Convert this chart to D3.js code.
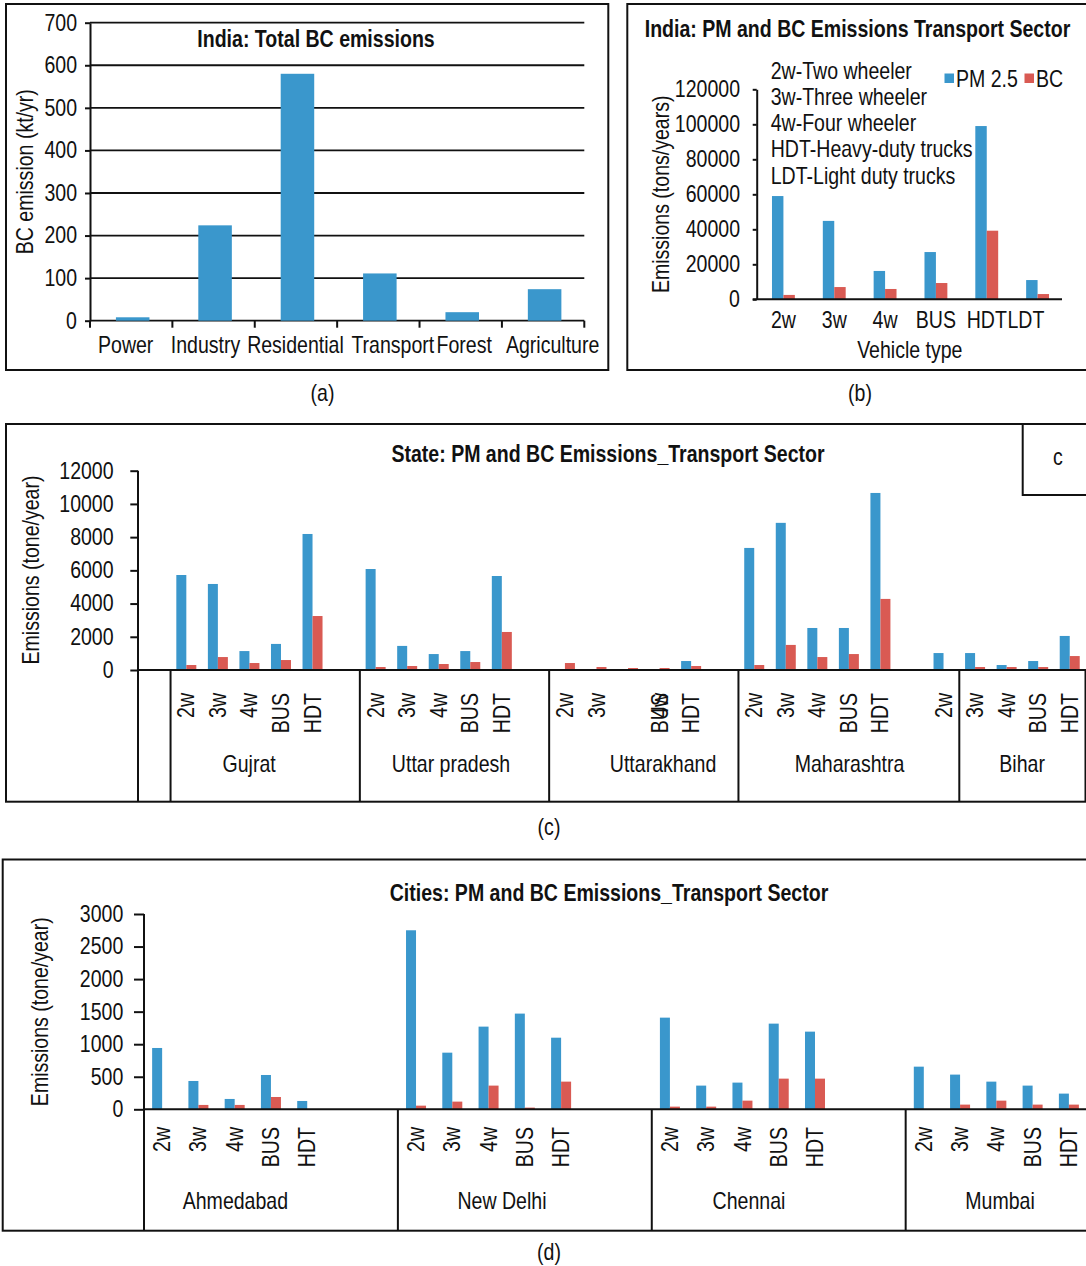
<!DOCTYPE html>
<html>
<head>
<meta charset="utf-8">
<script src="https://cdn.jsdelivr.net/npm/d3@7"></script>
<style>
  html, body { margin: 0; padding: 0; background: #fff; }
  svg text { font-family: "Liberation Sans", Arial, sans-serif; fill: #111; }
</style>
</head>
<body>
<svg id="fig" width="1086" height="1266"></svg>
<script>
// ---------------- data ----------------
// (a) India total BC by sector (kt/yr)
const sectors = ["Power", "Industry", "Residential", "Transport", "Forest", "Agriculture"];
const sectorBC = [8, 224, 580, 111, 20, 74];
const ticksA = [0, 100, 200, 300, 400, 500, 600, 700];

// (b) India transport sector by vehicle type (tons/year)
const vehicleTypes = ["2w", "3w", "4w", "BUS", "HDT", "LDT"];
const indiaPM25 = [59000, 44800, 16200, 27000, 99000, 11000];
const indiaBC = [2500, 7000, 5900, 9300, 39200, 3000];
const ticksB = [0, 20000, 40000, 60000, 80000, 100000, 120000];
const vehicleKey = ["2w-Two wheeler", "3w-Three wheeler", "4w-Four wheeler",
                    "HDT-Heavy-duty trucks", "LDT-Light duty trucks"];
const seriesNames = ["PM 2.5", "BC"];

// (c) states: one entry per category slot on the axis
const stateNames = ["Gujrat", "Uttar pradesh", "Uttarakhand", "Maharashtra", "Bihar"];
const stateGroupSizes = [6, 6, 6, 7, 4];          // slots per state bracket (after one leading empty slot)
const stateSlotLabels = ["",
  "2w", "3w", "4w", "BUS", "HDT", "",
  "2w", "3w", "4w", "BUS", "HDT", "",
  "2w", "3w", "4w", "BUS", "HDT", "",
  "2w", "3w", "4w", "BUS", "HDT", "", "2w",
  "3w", "4w", "BUS", "HDT"];
const statePM25 = [null,
  5720, 5180, 1140, 1570, 8190, null,
  6080, 1450, 960, 1140, 5660, null,
  0, 0, 0, 0, 540, null,
  7350, 8860, 2530, 2530, 10660, null, 1020,
  1020, 300, 540, 2050];
const stateBC = [null,
  300, 780, 420, 600, 3250, null,
  180, 240, 360, 480, 2290, null,
  420, 180, 120, 120, 240, null,
  300, 1510, 780, 960, 4280, null, 0,
  180, 180, 180, 840];
const ticksC = [0, 2000, 4000, 6000, 8000, 10000, 12000];

// (d) cities: 7 slots per city
const cityNames = ["Ahmedabad", "New Delhi", "Chennai", "Mumbai"];
const citySlotLabels = [
  "2w", "3w", "4w", "BUS", "HDT", "", "",
  "2w", "3w", "4w", "BUS", "HDT", "", "",
  "2w", "3w", "4w", "BUS", "HDT", "", "",
  "2w", "3w", "4w", "BUS", "HDT", "", ""];
const cityPM25 = [
  942, 435, 159, 527, 128, null, null,
  2750, 870, 1270, 1470, 1100, null, null,
  1408, 364, 410, 1316, 1193, null, null,
  655, 533, 425, 364, 241, null, null];
const cityBC = [
  0, 67, 67, 189, 0, null, null,
  56, 118, 364, 26, 425, null, null,
  41, 41, 133, 471, 471, null, null,
  0, 72, 133, 72, 72, null, null];
const ticksD = [0, 500, 1000, 1500, 2000, 2500, 3000];

// ---------------- style / layout ----------------
const BLUE = "#3a97cc", RED = "#d95a53", INK = "#111";
const FS = 23;          // type size
const SX = 0.85;        // condensed lettering: horizontal squeeze of every glyph run
const sectorLabelNudge = [-7, -9.5, -2, 13, 2, 8];     // horizontal spread of sector names
const vehicleLabelNudge = [0, 0, 0, 0, 0, -11.7];
const stateLabelShift = { 15: 1 };                       // that slot's name sits one slot to the right
const stateGroupLabelAt = [3.49, 9.89, 16.61, 22.52, 27.99]; // in slot units
const cityGroupLabelAt = [2.52, 9.87, 16.68, 23.6];

const svg = d3.select("#fig");

function frame(g, x, y, w, h) {
  g.append("rect").attr("x", x).attr("y", y).attr("width", w).attr("height", h)
    .attr("fill", "none").attr("stroke", INK).attr("stroke-width", 2);
}
// horizontal text, condensed around its anchor point
function label(g, x, y, s, o = {}) {
  const t = g.append("text")
    .attr("transform", `translate(${x},${y}) scale(${SX},1)`)
    .attr("font-size", o.size || FS)
    .attr("text-anchor", o.anchor || "middle")
    .text(s);
  if (o.bold) t.attr("font-weight", "bold");
  return t;
}
// vertical text reading upwards, condensed along its own direction
function vtext(g, x, y, s, anchor, dy) {
  const t = g.append("text").attr("transform", `translate(${x},${y}) rotate(-90) scale(${SX},1)`)
    .attr("font-size", FS).attr("text-anchor", anchor).text(s);
  if (dy) t.attr("dy", dy);
  return t;
}
function line(g, x1, y1, x2, y2, w = 2) {
  g.append("line").attr("x1", x1).attr("y1", y1).attr("x2", x2).attr("y2", y2)
    .attr("stroke", INK).attr("stroke-width", w);
}
function yAxis(g, x, scale, ticks, size, pad, keepDomain) {
  const ax = g.append("g").attr("transform", `translate(${x},0)`)
    .call(d3.axisLeft(scale).tickValues(ticks).tickFormat(d3.format("d"))
      .tickSize(size).tickPadding(pad).tickSizeOuter(0));
  ax.attr("font-family", null).attr("font-size", null);
  ax.selectAll("text").each(function () {
    const t = d3.select(this);
    const tx = +t.attr("x");
    t.attr("x", null).attr("transform", `translate(${tx},0) scale(${SX},1)`)
      .attr("font-size", FS).attr("fill", INK);
  });
  ax.selectAll("line").attr("stroke", INK).attr("stroke-width", 2);
  ax.select(".domain").attr("stroke", INK).attr("stroke-width", 2);
  if (!keepDomain) ax.select(".domain").remove();
  return ax;
}

// ---------------- (a) ----------------
{
  const g = svg.append("g");
  frame(g, 6, 4, 602.3, 366);
  const x = d3.scaleBand().domain(sectors).range([90, 584.3]).paddingInner(0.593).paddingOuter(0.2965);
  const y = d3.scaleLinear().domain([0, 700]).range([320.7, 22.7]);
  g.selectAll("line.grid").data(ticksA).join("line").attr("class", "grid")
    .attr("x1", 90).attr("x2", 584.3).attr("y1", d => y(d)).attr("y2", d => y(d))
    .attr("stroke", INK).attr("stroke-width", 1.8);
  g.selectAll("rect.bar").data(sectors).join("rect").attr("class", "bar")
    .attr("x", d => x(d) + 1.5).attr("width", x.bandwidth())
    .attr("y", (d, i) => y(sectorBC[i])).attr("height", (d, i) => y(0) - y(sectorBC[i]))
    .attr("fill", BLUE);
  yAxis(g, 90, y, ticksA, 5, 8, true);
  d3.range(sectors.length + 1).forEach(i => {
    const bx = 90 + i * x.step();
    line(g, bx, y(0), bx, y(0) + 7);
  });
  sectors.forEach((s, i) => label(g, x(s) + x.bandwidth() / 2 + 1.5 + sectorLabelNudge[i], 353, s));
  label(g, 316, 47, "India: Total BC emissions", { bold: true });
  vtext(g, 33, 171.7, "BC emission (kt/yr)", "middle");
  label(g, 322.5, 401, "(a)");
}

// ---------------- (b) ----------------
{
  const g = svg.append("g");
  frame(g, 627.3, 4, 520, 366);
  const x = d3.scaleBand().domain(vehicleTypes).range([758, 1063]).paddingInner(0.55).paddingOuter(0.275);
  const xs = d3.scaleBand().domain(seriesNames).range([0, x.bandwidth()]);
  const y = d3.scaleLinear().domain([0, 120000]).range([299.3, 89.3]);
  const rows = vehicleTypes.map((v, i) => ({ v, vals: [indiaPM25[i], indiaBC[i]] }));
  const grp = g.selectAll("g.cat").data(rows).join("g").attr("class", "cat")
    .attr("transform", d => `translate(${x(d.v)},0)`);
  grp.selectAll("rect").data(d => d.vals.map((val, k) => ({ s: seriesNames[k], val })))
    .join("rect").attr("x", d => xs(d.s)).attr("width", xs.bandwidth())
    .attr("y", d => y(d.val)).attr("height", d => y(0) - y(d.val))
    .attr("fill", d => d.s === "BC" ? RED : BLUE);
  yAxis(g, 756.7, y, ticksB, 4, 12.7, true);
  line(g, 752.7, y(0), 1062, y(0));
  vehicleTypes.forEach((v, i) => label(g, x(v) + x.bandwidth() / 2 + vehicleLabelNudge[i], 328.3, v));
  label(g, 909.8, 358, "Vehicle type");
  label(g, 857.5, 36.7, "India: PM and BC Emissions Transport Sector", { bold: true });
  vtext(g, 668.5, 194.3, "Emissions (tons/years)", "middle");
  vehicleKey.forEach((s, i) => label(g, 770.7, 78.5 + i * 26.25, s, { anchor: "start" }));
  // legend
  const lg = [{ s: seriesNames[0], c: BLUE, x: 944.5 }, { s: seriesNames[1], c: RED, x: 1024.5 }];
  lg.forEach(d => {
    g.append("rect").attr("x", d.x).attr("y", 73.5).attr("width", 9.5).attr("height", 9.5).attr("fill", d.c);
    label(g, d.x + 11.5, 86.7, d.s, { anchor: "start" });
  });
  label(g, 860, 401, "(b)");
}

// ---------------- grouped slot chart used by (c) and (d) ----------------
function slotChart(g, cfg) {
  const n = cfg.labels.length;
  const x = d3.scaleBand().domain(d3.range(n)).range([cfg.x0, cfg.x0 + n * cfg.step]);
  const y = d3.scaleLinear().domain(cfg.yDomain).range([cfg.yBase, cfg.yTop]);
  const bw = cfg.barW;
  const slots = d3.range(n).filter(i => cfg.pm[i] !== null);
  g.selectAll("rect.pm").data(slots).join("rect").attr("class", "pm")
    .attr("x", i => x(i) + x.bandwidth() / 2 - bw).attr("width", bw)
    .attr("y", i => y(cfg.pm[i])).attr("height", i => y(0) - y(cfg.pm[i]))
    .attr("fill", BLUE);
  g.selectAll("rect.bc").data(slots).join("rect").attr("class", "bc")
    .attr("x", i => x(i) + x.bandwidth() / 2).attr("width", bw)
    .attr("y", i => y(cfg.bc[i])).attr("height", i => y(0) - y(cfg.bc[i]))
    .attr("fill", RED);
  yAxis(g, cfg.axisX, y, cfg.ticks, cfg.tickSize, cfg.tickPad, false);
  line(g, cfg.axisX, cfg.yTop, cfg.axisX, cfg.bottom);
  line(g, cfg.axisX, y(0), 1090, y(0));
  // bracket dividers between groups
  let k = cfg.firstSlot;
  const edges = [k];
  cfg.groupSizes.forEach(s => { k += s; edges.push(k); });
  edges.forEach(e => {
    const ex = cfg.x0 + e * cfg.step;
    if (ex > cfg.axisX + 1) line(g, ex, y(0), ex, cfg.bottom);
  });
  // slot names
  cfg.labels.forEach((s, i) => {
    if (!s) return;
    const j = i + ((cfg.shift && cfg.shift[i]) || 0);
    vtext(g, x(j) + x.bandwidth() / 2, cfg.slotLabelY, s, "end", "0.35em");
  });
  // group names
  cfg.groups.forEach((s, i) => label(g, cfg.x0 + cfg.groupAt[i] * cfg.step, cfg.groupLabelY, s));
}

// ---------------- (c) ----------------
{
  const g = svg.append("g");
  frame(g, 6, 424, 1200, 377.7);
  g.append("rect").attr("x", 1022.7).attr("y", 424).attr("width", 200).attr("height", 71)
    .attr("fill", "none").attr("stroke", INK).attr("stroke-width", 2);
  label(g, 1058, 465, "c");
  slotChart(g, {
    labels: stateSlotLabels, pm: statePM25, bc: stateBC, groups: stateNames,
    groupSizes: stateGroupSizes, firstSlot: 1, groupAt: stateGroupLabelAt, shift: stateLabelShift,
    x0: 139, step: 31.55, barW: 10, yDomain: [0, 12000], yBase: 670, yTop: 470.7,
    axisX: 138, bottom: 801.7, ticks: ticksC, tickSize: 7.7, tickPad: 16.7,
    slotLabelY: 693, groupLabelY: 771.5
  });
  label(g, 608, 461.5, "State: PM and BC Emissions_Transport Sector", { bold: true });
  vtext(g, 38.5, 570, "Emissions (tone/year)", "middle");
  label(g, 549, 835, "(c)");
}

// ---------------- (d) ----------------
{
  const g = svg.append("g");
  frame(g, 2.7, 859.5, 1200, 371.2);
  slotChart(g, {
    labels: citySlotLabels, pm: cityPM25, bc: cityBC, groups: cityNames,
    groupSizes: [7, 7, 7, 7], firstSlot: 0, groupAt: cityGroupLabelAt, shift: null,
    x0: 144, step: 36.27, barW: 10, yDomain: [0, 3000], yBase: 1109.3, yTop: 914,
    axisX: 144, bottom: 1230.7, ticks: ticksD, tickSize: 10, tickPad: 10.7,
    slotLabelY: 1127, groupLabelY: 1208.5
  });
  label(g, 609, 900.5, "Cities: PM and BC Emissions_Transport Sector", { bold: true });
  vtext(g, 47.5, 1011.7, "Emissions (tone/year)", "middle");
  label(g, 549, 1260, "(d)");
}
</script>
</body>
</html>
